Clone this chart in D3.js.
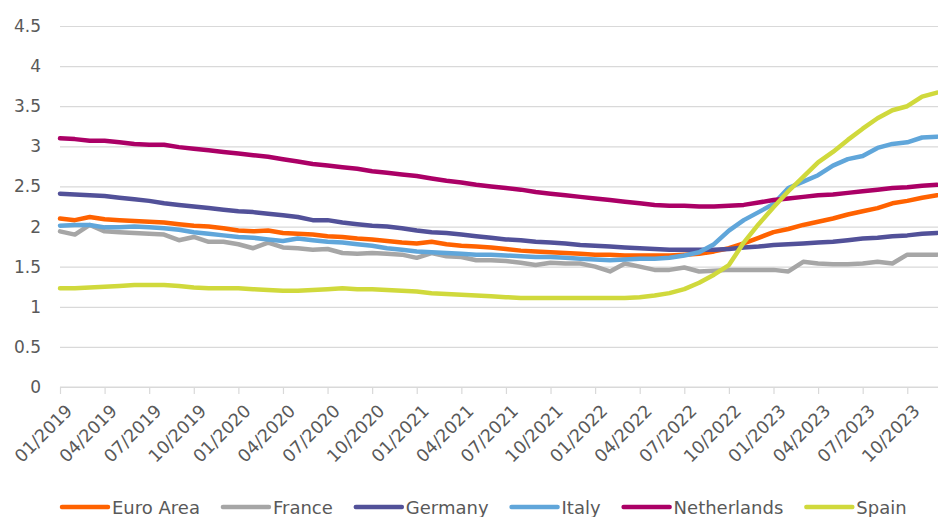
<!DOCTYPE html>
<html>
<head>
<meta charset="utf-8">
<script src="https://cdn.jsdelivr.net/npm/d3@7/dist/d3.min.js"></script>
<style>
  html, body { margin: 0; padding: 0; background: #fff; }
  svg { display: block; }
  text { font-family: "DejaVu Sans", sans-serif; fill: #595959; }
</style>
</head>
<body>
<svg id="chart" width="938" height="517"></svg>
<script>
// ---------- DATA ----------
const seriesNames = ["Euro Area", "France", "Germany", "Italy", "Netherlands", "Spain"];
const seriesColors = ["#FF6200", "#A6A6A6", "#525199", "#60A6DA", "#AB0066", "#D0D93C"];

const yTickValues = [0, 0.5, 1, 1.5, 2, 2.5, 3, 3.5, 4, 4.5];
const yTickLabels = ["0", "0.5", "1", "1.5", "2", "2.5", "3", "3.5", "4", "4.5"];

const xTickLabels = ["01/2019", "04/2019", "07/2019", "10/2019", "01/2020", "04/2020", "07/2020", "10/2020",
  "01/2021", "04/2021", "07/2021", "10/2021", "01/2022", "04/2022", "07/2022", "10/2022",
  "01/2023", "04/2023", "07/2023", "10/2023"];

// monthly categories 01/2019 .. 12/2023
const months = [];
for (let yr = 2019; yr <= 2023; yr++) for (let m = 1; m <= 12; m++) months.push((m < 10 ? "0" : "") + m + "/" + yr);

const euroArea = [2.10, 2.08, 2.12, 2.09, 2.08, 2.07, 2.06, 2.05, 2.03, 2.01, 2.00, 1.98,
  1.95, 1.94, 1.95, 1.92, 1.91, 1.90, 1.88, 1.87, 1.85, 1.84, 1.82, 1.80,
  1.79, 1.81, 1.78, 1.76, 1.75, 1.74, 1.72, 1.70, 1.69, 1.68, 1.67, 1.66,
  1.65, 1.65, 1.64, 1.64, 1.64, 1.64, 1.65, 1.66, 1.69, 1.73, 1.79, 1.86,
  1.93, 1.97, 2.02, 2.06, 2.10, 2.15, 2.19, 2.23, 2.29, 2.32, 2.36, 2.39];

const france = [1.94, 1.90, 2.02, 1.94, 1.93, 1.92, 1.91, 1.90, 1.83, 1.87, 1.81, 1.81,
  1.78, 1.73, 1.80, 1.74, 1.73, 1.71, 1.72, 1.67, 1.66, 1.67, 1.66, 1.65,
  1.61, 1.67, 1.63, 1.62, 1.58, 1.58, 1.57, 1.55, 1.52, 1.55, 1.54, 1.54,
  1.50, 1.44, 1.54, 1.50, 1.46, 1.46, 1.49, 1.44, 1.45, 1.46, 1.46, 1.46,
  1.46, 1.44, 1.56, 1.54, 1.53, 1.53, 1.54, 1.56, 1.54, 1.65, 1.65, 1.65];

const germany = [2.41, 2.40, 2.39, 2.38, 2.36, 2.34, 2.32, 2.29, 2.27, 2.25, 2.23, 2.21,
  2.19, 2.18, 2.16, 2.14, 2.12, 2.08, 2.08, 2.05, 2.03, 2.01, 2.00, 1.98,
  1.95, 1.93, 1.92, 1.90, 1.88, 1.86, 1.84, 1.83, 1.81, 1.80, 1.79, 1.77,
  1.76, 1.75, 1.74, 1.73, 1.72, 1.71, 1.71, 1.71, 1.71, 1.72, 1.74, 1.75,
  1.77, 1.78, 1.79, 1.80, 1.81, 1.83, 1.85, 1.86, 1.88, 1.89, 1.91, 1.92];

const italy = [2.01, 2.02, 2.02, 1.99, 1.99, 2.00, 1.99, 1.98, 1.96, 1.93, 1.91, 1.89,
  1.87, 1.86, 1.84, 1.82, 1.85, 1.83, 1.81, 1.80, 1.78, 1.76, 1.73, 1.71,
  1.69, 1.68, 1.67, 1.66, 1.65, 1.65, 1.64, 1.63, 1.62, 1.62, 1.61, 1.60,
  1.59, 1.58, 1.59, 1.60, 1.60, 1.61, 1.64, 1.68, 1.78, 1.95, 2.08, 2.18,
  2.28, 2.48, 2.56, 2.64, 2.76, 2.84, 2.88, 2.98, 3.03, 3.05, 3.11, 3.12];

const netherlands = [3.10, 3.09, 3.07, 3.07, 3.05, 3.03, 3.02, 3.02, 2.99, 2.97, 2.95, 2.93,
  2.91, 2.89, 2.87, 2.84, 2.81, 2.78, 2.76, 2.74, 2.72, 2.69, 2.67, 2.65,
  2.63, 2.60, 2.57, 2.55, 2.52, 2.50, 2.48, 2.46, 2.43, 2.41, 2.39, 2.37,
  2.35, 2.33, 2.31, 2.29, 2.27, 2.26, 2.26, 2.25, 2.25, 2.26, 2.27, 2.30,
  2.33, 2.35, 2.37, 2.39, 2.40, 2.42, 2.44, 2.46, 2.48, 2.49, 2.51, 2.52];

const spain = [1.23, 1.23, 1.24, 1.25, 1.26, 1.27, 1.27, 1.27, 1.26, 1.24, 1.23, 1.23,
  1.23, 1.22, 1.21, 1.20, 1.20, 1.21, 1.22, 1.23, 1.22, 1.22, 1.21, 1.20,
  1.19, 1.17, 1.16, 1.15, 1.14, 1.13, 1.12, 1.11, 1.11, 1.11, 1.11, 1.11,
  1.11, 1.11, 1.11, 1.12, 1.14, 1.17, 1.22, 1.30, 1.40, 1.52, 1.80, 2.03,
  2.24, 2.44, 2.62, 2.80, 2.93, 3.08, 3.22, 3.35, 3.45, 3.50, 3.62, 3.67];

const seriesValues = [euroArea, france, germany, italy, netherlands, spain];

// ---------- CHART ----------
const svg = d3.select("#chart");
const plotLeft = 60, plotRight = 938, plotTop = 26, plotBottom = 387;

const x = d3.scalePoint().domain(months).range([plotLeft, 937]);
const y = d3.scaleLinear().domain([0, 4.5]).range([plotBottom, plotTop]);

// gridlines + y labels
const yAxis = d3.axisLeft(y).tickValues(yTickValues)
  .tickFormat((d, i) => yTickLabels[i]).tickSize(-(plotRight - plotLeft)).tickPadding(19);
const gy = svg.append("g").attr("transform", `translate(${plotLeft},0)`).call(yAxis);
gy.select(".domain").remove();
gy.selectAll(".tick line").attr("stroke", "#d9d9d9").attr("stroke-width", 1.2);
gy.selectAll(".tick text").attr("font-size", "17px").attr("fill", "#595959")
  .attr("font-family", "DejaVu Sans, sans-serif");

// x axis
const xAxis = d3.axisBottom(x).tickValues(xTickLabels).tickSize(7).tickFormat(d => d);
const gx = svg.append("g").attr("transform", `translate(0,${plotBottom})`).call(xAxis);
gx.select(".domain").attr("d", `M${plotLeft},0H${plotRight}`).attr("stroke", "#d9d9d9").attr("stroke-width", 1.2);
gx.selectAll(".tick line").attr("stroke", "#d9d9d9").attr("stroke-width", 1.2);
gx.selectAll(".tick text")
  .attr("font-size", "17.5px").attr("fill", "#595959").attr("font-family", "DejaVu Sans, sans-serif")
  .attr("text-anchor", "end").attr("dy", null).attr("y", null)
  .attr("transform", "translate(13,25) rotate(-45)");

// lines
const line = d3.line().x((d, i) => x(months[i])).y(d => y(d)).curve(d3.curveLinear);
const gl = svg.append("g");
seriesValues.forEach((vals, k) => {
  gl.append("path").datum(vals).attr("d", line)
    .attr("fill", "none").attr("stroke", seriesColors[k]).attr("stroke-width", 4.5)
    .attr("stroke-linejoin", "round").attr("stroke-linecap", "round");
});

// legend
const lg = svg.append("g").attr("transform", "translate(0,507)");
let cx = 62;
seriesNames.forEach((name, k) => {
  lg.append("line").attr("x1", cx).attr("x2", cx + 46).attr("y1", 0).attr("y2", 0)
    .attr("stroke", seriesColors[k]).attr("stroke-width", 4.5).attr("stroke-linecap", "round");
  const t = lg.append("text").attr("x", cx + 50).attr("y", 6.5)
    .attr("font-size", "18px").attr("fill", "#595959").text(name);
  cx += 50 + t.node().getComputedTextLength() + 23;
});
</script>
</body>
</html>
